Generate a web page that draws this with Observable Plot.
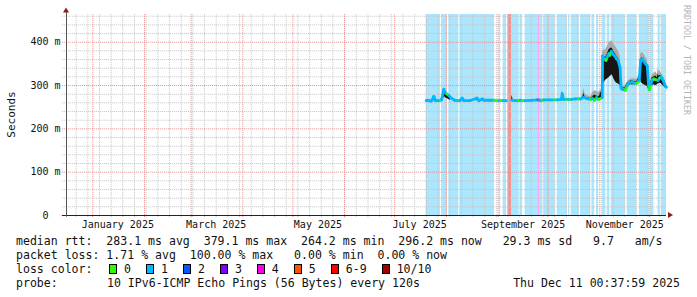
<!DOCTYPE html>
<html><head><meta charset="utf-8">
<script src="https://cdn.jsdelivr.net/npm/d3@7"></script>
<script src="https://cdn.jsdelivr.net/npm/@observablehq/plot@0.6"></script>
<style>
html,body{margin:0;padding:0;background:#fff;}
#wrap{width:697px;height:297px;position:relative;overflow:hidden;font-family:"DejaVu Sans Mono",monospace;color:#111;}
#legend{position:absolute;left:0;top:234px;width:697px;font-size:11.56px;line-height:14px;}
.row{position:relative;height:14px;white-space:pre;}
.row span{position:absolute;top:0;}
.row span.box{top:2px;width:8px;height:10px;border:1px solid #000;box-sizing:border-box;}
</style></head>
<body><div id="wrap"><div id="chart"></div><div id="legend"></div></div>
<script>
// ---- data ----
const timeStart = "2024-12-16T05:30";
const timeEnd = "2025-12-11T00:38";
const yMax = 464;

// loss background bands: [start, end, loss]
const lossBands = [
  ["2025-07-19T22:00","2025-07-28T12:00",1],
  ["2025-07-29T02:00","2025-08-01T12:00",1],
  ["2025-08-02T12:00","2025-08-08T12:00",1],
  ["2025-08-09T02:00","2025-08-29T22:00",1],
  ["2025-09-01T17:00","2025-09-02T12:00",1],
  ["2025-09-04T02:00","2025-09-06T02:00",1],
  ["2025-09-06T22:00","2025-09-09T02:00",10],
  ["2025-09-09T02:00","2025-09-13T17:00",1],
  ["2025-09-14T12:00","2025-09-15T17:00",1],
  ["2025-09-17T07:00","2025-09-24T22:00",1],
  ["2025-09-24T22:00","2025-09-25T22:00",4],
  ["2025-09-25T22:00","2025-09-27T17:00",1],
  ["2025-09-28T12:00","2025-10-05T07:00",1],
  ["2025-10-06T12:00","2025-10-12T12:00",1],
  ["2025-10-13T07:00","2025-10-14T02:00",1],
  ["2025-10-14T22:00","2025-10-19T17:00",1],
  ["2025-10-20T12:00","2025-10-26T12:00",1],
  ["2025-10-27T07:00","2025-10-28T22:00",1],
  ["2025-10-30T02:00","2025-10-31T07:00",1],
  ["2025-11-02T17:00","2025-11-04T17:00",1],
  ["2025-11-05T12:00","2025-11-07T02:00",1],
  ["2025-11-07T22:00","2025-11-16T07:00",1],
  ["2025-11-17T12:00","2025-11-23T02:00",1],
  ["2025-11-24T17:00","2025-11-30T17:00",1],
  ["2025-12-01T12:00","2025-12-03T12:00",1],
  ["2025-12-05T22:00","2025-12-07T02:00",1],
  ["2025-12-07T22:00","2025-12-11T00:38",1]
];

// median rtt (ms): [time, median, loss]
const medianRtt = [
  ["2025-07-19T22:00",265,1],["2025-07-21T00:00",266,1],["2025-07-23T00:00",264,1],
  ["2025-07-24T12:00",275,1],["2025-07-25T12:00",265,1],["2025-07-27T12:00",265,1],
  ["2025-07-28T12:00",266,0],["2025-07-29T02:00",267,1],["2025-07-30T12:00",291,1],
  ["2025-07-31T06:00",284,1],["2025-08-01T12:00",280,0],["2025-08-02T12:00",277,1],
  ["2025-08-04T00:00",271,1],["2025-08-06T00:00",266,1],["2025-08-08T12:00",265,0],
  ["2025-08-09T02:00",265,1],["2025-08-10T12:00",271,1],["2025-08-11T12:00",265,1],
  ["2025-08-15T00:00",265,1],["2025-08-19T12:00",271,1],["2025-08-20T12:00",265,1],
  ["2025-08-22T12:00",269,1],["2025-08-23T12:00",266,1],["2025-08-27T00:00",266,1],
  ["2025-08-29T22:00",266,0],["2025-09-01T17:00",265,1],["2025-09-02T12:00",266,0],
  ["2025-09-04T02:00",265,1],["2025-09-06T02:00",265,0],["2025-09-06T22:00",null,10],
  ["2025-09-09T02:00",266,1],["2025-09-11T12:00",265,1],["2025-09-13T17:00",265,0],
  ["2025-09-14T12:00",266,1],["2025-09-15T17:00",265,0],["2025-09-17T07:00",265,1],
  ["2025-09-21T00:00",266,1],["2025-09-24T22:00",267,4],["2025-09-25T22:00",266,1],
  ["2025-09-27T17:00",266,0],["2025-09-28T12:00",267,1],["2025-10-02T00:00",267,1],
  ["2025-10-05T07:00",267,0],["2025-10-06T12:00",267,1],["2025-10-09T00:00",268,1],
  ["2025-10-09T12:00",281,1],["2025-10-10T06:00",268,1],["2025-10-12T12:00",268,0],
  ["2025-10-13T07:00",268,1],["2025-10-14T02:00",268,0],["2025-10-14T22:00",268,1],
  ["2025-10-17T12:00",269,1],["2025-10-19T17:00",269,0],["2025-10-20T12:00",269,1],
  ["2025-10-22T12:00",273,1],["2025-10-24T00:00",270,1],["2025-10-26T12:00",268,0],
  ["2025-10-27T07:00",271,1],["2025-10-28T22:00",266,0],["2025-10-30T02:00",272,1],
  ["2025-10-31T07:00",268,0],["2025-11-02T12:00",272,1],["2025-11-02T17:00",368,1],
  ["2025-11-03T12:00",362,1],["2025-11-04T17:00",358,0],["2025-11-05T12:00",366,1],
  ["2025-11-06T12:00",374,1],["2025-11-07T02:00",370,0],["2025-11-07T22:00",379,1],
  ["2025-11-09T00:00",372,1],["2025-11-10T00:00",368,1],["2025-11-11T00:00",362,1],
  ["2025-11-12T00:00",358,1],["2025-11-13T06:00",340,1],["2025-11-13T18:00",295,1],
  ["2025-11-14T12:00",292,1],["2025-11-16T07:00",289,0],["2025-11-17T12:00",300,1],
  ["2025-11-18T12:00",306,1],["2025-11-20T12:00",309,1],["2025-11-21T12:00",306,1],
  ["2025-11-23T02:00",305,0],["2025-11-24T17:00",312,1],["2025-11-25T12:00",358,1],
  ["2025-11-26T12:00",362,1],["2025-11-27T12:00",355,1],["2025-11-28T12:00",350,1],
  ["2025-11-29T12:00",345,1],["2025-11-30T07:00",300,1],["2025-11-30T17:00",290,0],
  ["2025-12-01T12:00",302,1],["2025-12-02T12:00",313,1],["2025-12-03T12:00",315,0],
  ["2025-12-05T22:00",312,1],["2025-12-07T02:00",318,0],["2025-12-07T22:00",320,1],
  ["2025-12-09T00:00",312,1],["2025-12-10T00:00",302,1],["2025-12-11T00:00",296,1]
];

// smoke (ping spread): [episode, time, low, dark top, gray top]
const smokeRtt = [
  [1,"2025-07-23T18:00",265,266,266],[1,"2025-07-24T12:00",265,276,279],[1,"2025-07-25T06:00",265,266,266],
  [2,"2025-07-29T12:00",266,268,268],[2,"2025-07-30T06:00",268,286,292],[2,"2025-07-30T18:00",275,293,296],
  [2,"2025-07-31T12:00",272,285,288],[2,"2025-08-01T12:00",270,281,283],[2,"2025-08-02T12:00",268,276,278],
  [2,"2025-08-03T12:00",266,268,268],
  [3,"2025-08-10T00:00",265,266,266],[3,"2025-08-10T12:00",265,272,275],[3,"2025-08-11T00:00",265,266,266],
  [4,"2025-08-19T00:00",265,266,266],[4,"2025-08-19T12:00",265,272,276],[4,"2025-08-20T00:00",265,266,266],
  [5,"2025-08-22T00:00",265,266,266],[5,"2025-08-22T12:00",265,270,273],[5,"2025-08-23T00:00",265,266,266],
  [6,"2025-09-09T02:00",265,266,266],[6,"2025-09-09T12:00",265,277,279],[6,"2025-09-10T00:00",265,266,266],
  [7,"2025-10-09T00:00",267,268,268],[7,"2025-10-09T12:00",267,286,290],[7,"2025-10-10T00:00",267,268,268],
  [8,"2025-10-21T00:00",268,270,270],[8,"2025-10-22T00:00",268,275,287],[8,"2025-10-22T12:00",268,283,293],
  [8,"2025-10-23T00:00",268,274,282],[8,"2025-10-24T00:00",268,272,278],[8,"2025-10-25T00:00",267,271,276],
  [8,"2025-10-26T12:00",266,270,274],[8,"2025-10-28T00:00",266,275,285],[8,"2025-10-29T00:00",266,278,288],
  [8,"2025-10-30T00:00",267,276,287],[8,"2025-10-31T00:00",266,274,284],[8,"2025-11-01T00:00",268,276,286],
  [8,"2025-11-01T12:00",268,285,290],[8,"2025-11-02T12:00",268,280,290],
  [9,"2025-11-02T17:00",305,370,378],[9,"2025-11-03T12:00",306,368,382],[9,"2025-11-04T12:00",312,364,382],
  [9,"2025-11-05T12:00",315,372,390],[9,"2025-11-06T12:00",318,382,398],[9,"2025-11-07T12:00",322,386,402],
  [9,"2025-11-08T12:00",325,386,402],[9,"2025-11-09T12:00",315,378,396],[9,"2025-11-10T12:00",308,372,390],
  [9,"2025-11-11T12:00",305,366,384],[9,"2025-11-12T12:00",303,360,376],[9,"2025-11-13T06:00",300,352,366],
  [9,"2025-11-13T18:00",290,300,310],[9,"2025-11-14T12:00",288,296,302],[9,"2025-11-16T00:00",287,294,298],
  [9,"2025-11-17T12:00",297,304,308],[9,"2025-11-19T12:00",302,311,315],[9,"2025-11-21T12:00",302,310,316],
  [9,"2025-11-23T00:00",302,309,314],[9,"2025-11-24T17:00",305,318,325],[9,"2025-11-25T12:00",310,360,372],
  [9,"2025-11-26T12:00",305,365,377],[9,"2025-11-27T12:00",302,358,372],[9,"2025-11-28T12:00",300,352,366],
  [9,"2025-11-29T12:00",298,348,360],[9,"2025-11-30T06:00",292,310,330],[9,"2025-11-30T18:00",288,296,302],
  [9,"2025-12-01T12:00",296,306,312],[9,"2025-12-02T12:00",300,318,325],[9,"2025-12-03T12:00",302,320,328],
  [9,"2025-12-04T12:00",300,322,332],[9,"2025-12-05T12:00",302,318,326],[9,"2025-12-06T00:00",304,326,338],
  [9,"2025-12-06T12:00",304,322,334],[9,"2025-12-07T12:00",306,324,332],[9,"2025-12-08T12:00",302,318,325],
  [9,"2025-12-09T12:00",298,312,318],[9,"2025-12-10T12:00",294,304,308],[9,"2025-12-11T00:00",294,299,302]
];

const yTickValues = [0, 100, 200, 300, 400];
const yTickTexts = ["0\u00a0\u00a0", "100 m", "200 m", "300 m", "400 m"];
const xLabelDates = ["2025-01-16T00:00","2025-03-16T00:00","2025-05-16T00:00","2025-07-16T00:00","2025-09-16T00:00","2025-11-16T00:00"];
const xLabelTexts = ["January 2025","March 2025","May 2025","July 2025","September 2025","November 2025"];

const lossKeys = ["0","1","2","3","4","5","6-9","10/10"];
const lossKeyColors = ["#26ff00","#00b8ff","#0059ff","#7e00ff","#ff00ea","#ff5500","#ff0000","#a10000"];
const lineColor = {0:"#26ff00",1:"#00b8ff",2:"#0059ff",3:"#7e00ff",4:"#ff00ea",5:"#ff5500",6:"#ff0000",10:"#a10000"};
const bandColor = {1:"#aae6fd",4:"#ffa3f8",10:"#ff8f8f"};

const statsLine = "median rtt:  283.1 ms avg  379.1 ms max  264.2 ms min  296.2 ms now   29.3 ms sd   9.7   am/s";
const lossLine = "packet loss: 1.71 % avg  100.00 % max   0.00 % min  0.00 % now";
const probeText = "10 IPv6-ICMP Echo Pings (56 Bytes) every 120s";
const stampText = "Thu Dec 11 00:37:59 2025";

// ---- build ----
const P = s => new Date(s);
const X0 = P(timeStart), X1 = P(timeEnd);
const bands = lossBands.map(([s,e,l]) => ({start:P(s), end:P(e), loss:l}));
const med = medianRtt.map(([d,v,l]) => ({date:P(d), v, loss:l}));
const segs = [];
for (let i = 0; i < med.length - 1; i++) {
  const a = med[i], b = med[i+1];
  if (a.v == null || b.v == null) continue;
  segs.push({x1:a.date, y1:a.v, x2:b.date, y2:b.v, loss:a.loss});
}
const smoke = smokeRtt.map(([ep,d,lo,hd,hg]) => ({ep, date:P(d), lo, hd, hg}));
const weeks = d3.timeSunday.range(X0, X1);
const months = d3.timeMonth.range(X0, X1);
const yMinor = d3.range(20, yMax, 20).filter(v => v % 100 !== 0);
const yMajor = [100, 200, 300, 400];
const leftTick = d3.timeHour.offset(X0, -60);

const chart = Plot.plot({
  width: 697, height: 234,
  marginLeft: 66, marginRight: 31, marginTop: 14, marginBottom: 19,
  x: {type: "time", domain: [X0, X1], axis: null},
  y: {domain: [0, yMax], axis: null},
  color: {type: "identity"},
  style: {background: "#fff", fontFamily: "DejaVu Sans Mono", fontSize: "10px", color: "#111", overflow: "visible"},
  marks: [
    Plot.rect(bands, {x1: "start", x2: "end", y1: 0, y2: yMax, fill: d => bandColor[d.loss]}),
    Plot.ruleX(weeks, {y1: -5, y2: yMax, stroke: "#c4c4c4", strokeDasharray: "1,1"}),
    Plot.ruleY(yMinor, {x1: leftTick, x2: X1, stroke: "#c4c4c4", strokeDasharray: "1,1"}),
    Plot.ruleX(months, {y1: -5, y2: yMax, stroke: "#e58c8c", strokeDasharray: "1,1"}),
    Plot.ruleY(yMajor, {x1: leftTick, x2: X1, stroke: "#e58c8c", strokeDasharray: "1,1"}),
    Plot.areaY(smoke, {x: "date", y1: "lo", y2: "hg", z: "ep", fill: "#aaaaaa"}),
    Plot.areaY(smoke, {x: "date", y1: "lo", y2: "hd", z: "ep", fill: "#161616"}),
    Plot.link(segs, {x1: "x1", y1: "y1", x2: "x2", y2: "y2", stroke: d => lineColor[d.loss], strokeWidth: 2.8, strokeLinecap: "round"}),
    Plot.ruleY([0], {x1: leftTick, x2: X1, stroke: "#222"}),
    Plot.ruleX([X0], {y1: -4, y2: yMax + 4, stroke: "#555"}),
    Plot.text(yTickValues, {x: X0, y: d => d, text: (d, i) => yTickTexts[i], textAnchor: "end", dx: -6, fill: "#111"}),
    Plot.text(xLabelDates, {x: d => P(d), y: 0, text: (d, i) => xLabelTexts[i], dy: 9, fill: "#111"})
  ]
});
document.getElementById("chart").appendChild(chart);

// decorations placed through the plot's scales
const sx = chart.scale("x"), sy = chart.scale("y");
const svg = d3.select(chart);
const ax = sx.apply(X0), ay0 = sy.apply(0), ayTop = sy.apply(yMax), axR = sx.apply(X1);
svg.append("path").attr("d", `M${ax-3},${ayTop-1.5}L${ax+3},${ayTop-1.5}L${ax},${ayTop-6.5}Z`).attr("fill", "#8b1a1a");
svg.append("path").attr("d", `M${axR+2},${ay0-3}L${axR+2},${ay0+3}L${axR+7},${ay0}Z`).attr("fill", "#8b1a1a");
svg.append("text").attr("transform", `translate(11.5,${(ay0 + ayTop) / 2}) rotate(-90)`)
  .attr("text-anchor", "middle").attr("dominant-baseline", "central")
  .attr("font-size", "11px").attr("fill", "#111").text("Seconds");
svg.append("text").attr("transform", `translate(687,60) rotate(90)`)
  .attr("text-anchor", "middle").attr("dominant-baseline", "central")
  .attr("font-size", "8.3px").attr("fill", "#b4b4b4").text("RRDTOOL / TOBI OETIKER");

// legend
const lg = d3.select("#legend");
const r1 = lg.append("div").attr("class", "row");
r1.append("span").style("left", "16px").text(statsLine);
const r2 = lg.append("div").attr("class", "row");
r2.append("span").style("left", "16px").text(lossLine);
const r3 = lg.append("div").attr("class", "row");
r3.append("span").style("left", "16px").text("loss color:");
let xp = 109;
lossKeys.forEach((k, i) => {
  r3.append("span").attr("class", "box").style("left", xp + "px").style("background", lossKeyColors[i]);
  r3.append("span").style("left", (xp + 15) + "px").text(k);
  xp += 15 + k.length * 6.96 + 15;
});
const r4 = lg.append("div").attr("class", "row");
r4.append("span").style("left", "16px").text("probe:");
r4.append("span").style("left", "107px").text(probeText);
r4.append("span").style("right", "17px").text(stampText);
</script></body></html>
